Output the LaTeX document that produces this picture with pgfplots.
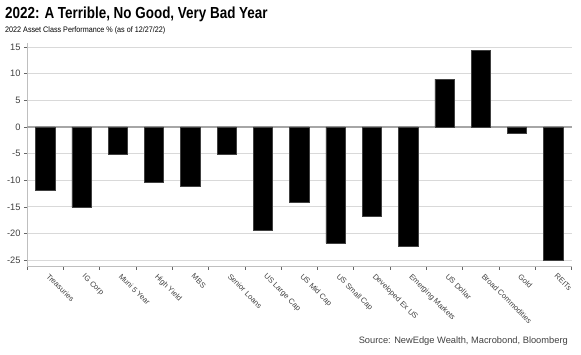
\documentclass[border=0pt]{standalone}
\usepackage{pgfplots}
\pgfplotsset{compat=1.18}
\usepackage{fontspec}
\setmainfont{Liberation Sans}
\definecolor{gridgray}{HTML}{D9D9D9}
\definecolor{axisgray}{HTML}{BFBFBF}
\definecolor{zerogray}{HTML}{A6A6A6}
\definecolor{txtgray}{HTML}{404040}
\begin{document}
\begin{tikzpicture}
\useasboundingbox (0,0) rectangle (581pt,355pt);
\node[anchor=base west, inner sep=0pt, font=\bfseries\fontsize{16}{18}\selectfont] at (5pt,336.7pt) {\scalebox{0.84}[1]{2022: A Terrible, No Good, Very Bad Year}};
\node[anchor=base west, inner sep=0pt, font=\fontsize{8}{9}\selectfont] at (5pt,322.7pt) {\scalebox{0.9}[1]{2022 Asset Class Performance \% (as of 12/27/22)}};
\node[anchor=base east, inner sep=0pt, font=\fontsize{9.3}{11}\selectfont, text=txtgray] at (568pt,11pt) {Source: NewEdge Wealth, Macrobond, Bloomberg};
\begin{axis}[
  at={(27pt,89pt)}, anchor=south west,
  scale only axis, width=544.5pt, height=223pt,
  xmin=-0.5, xmax=14.5, ymin=-26.09, ymax=15.75,
  axis x line*=bottom, axis y line*=left,
  axis line style={axisgray, line width=0.8pt},
  xtick={0,...,14},
  xticklabels={Treasuries,IG Corp,Muni 5 Year,High Yield,MBS,Senior Loans,US Large Cap,US Mid Cap,US Small Cap,Developed Ex US,Emerging Markets,US Dollar,Broad Commodities,Gold,REITs},
  major x tick style={draw=none},
  minor xtick={-0.5,0.5,...,14.5},
  minor x tick style={black!60, line width=0.6pt},
  minor tick length=4pt,
  tick align=outside,
  xticklabel style={xshift=4.5pt, yshift=-2.5pt, rotate=-45, anchor=north west, inner sep=1pt, font=\fontsize{7.6}{9}\selectfont, text=txtgray},
  ytick={-25,-20,...,15},
  ytick style={black!60, line width=0.6pt},
  major tick length=3pt,
  yticklabel style={font=\fontsize{9.3}{11}\selectfont, text=txtgray},
  /pgf/number format/assume math mode=true,
  ymajorgrids, grid style={gridgray, line width=0.9pt},
  ybar, bar width=19.3pt,
  clip=false,
]
\draw[zerogray, line width=1.3pt] (axis cs:-0.5,0) -- (axis cs:14.5,0);
\addplot[fill=black, draw=black!75, line width=0.5pt] coordinates {
(0,-11.9) (1,-15.1) (2,-5.1) (3,-10.3) (4,-11.1) (5,-5.1) (6,-19.3) (7,-14.1) (8,-21.8) (9,-16.8) (10,-22.4) (11,8.97) (12,14.4) (13,-1.26) (14,-25.0)
};
\end{axis}
\end{tikzpicture}
\end{document}
